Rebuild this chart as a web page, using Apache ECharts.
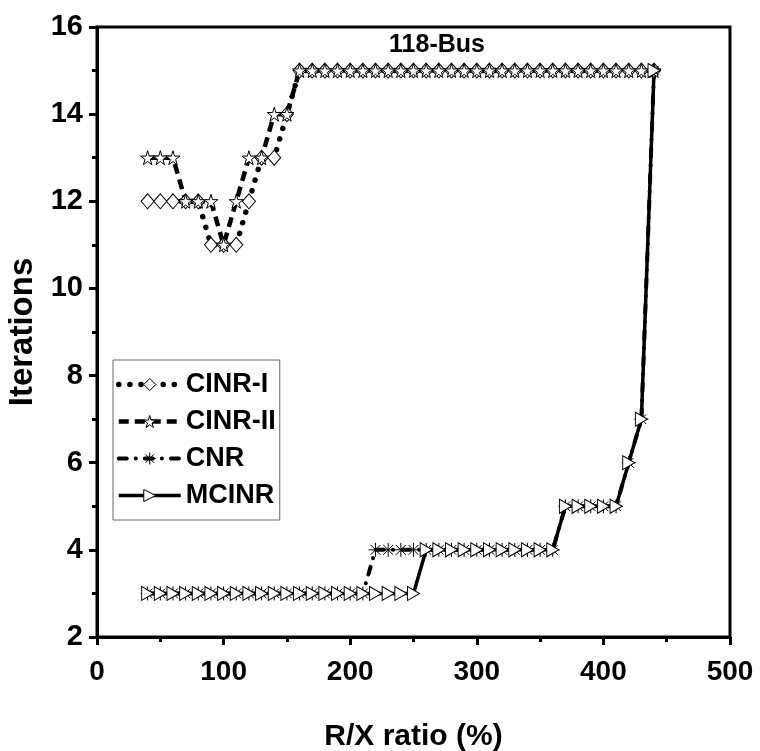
<!DOCTYPE html>
<html>
<head>
<meta charset="utf-8">
<script src="https://cdn.jsdelivr.net/npm/echarts@6/dist/echarts.min.js"></script>
<style>html,body{margin:0;padding:0;background:#fff;}#c{width:760px;height:751px;}</style>
</head>
<body>
<div id="c"></div>
<script>
// R/X ratio (%) values
const rxRatio = [40,50,60,70,80,90,100,110,120,130,140,150,160,170,180,190,200,210,220,230,240,250,260,270,280,290,300,310,320,330,340,350,360,370,380,390,400,410,420,430,440];
const cinr1 = [12,12,12,12,12,11,11,11,12,13,13,14,15,15,15,15,15,15,15,15,15,15,15,15,15,15,15,15,15,15,15,15,15,15,15,15,15,15,15,15,15];
const cinr2 = [13,13,13,12,12,12,11,12,13,13,14,14,15,15,15,15,15,15,15,15,15,15,15,15,15,15,15,15,15,15,15,15,15,15,15,15,15,15,15,15,15];
const cnr   = [3,3,3,3,3,3,3,3,3,3,3,3,3,3,3,3,3,3,4,4,4,4,4,4,4,4,4,4,4,4,4,4,4,5,5,5,5,5,6,7,15];
const mcinr = [3,3,3,3,3,3,3,3,3,3,3,3,3,3,3,3,3,3,3,3,3,3,4,4,4,4,4,4,4,4,4,4,4,5,5,5,5,5,6,7,15];
const seriesNames = ['CINR-I','CINR-II','CNR','MCINR'];
const xTicks = [0,100,200,300,400,500];
const yTicks = [2,4,6,8,10,12,14,16];
const titleText = '118-Bus';

const FONT = '"Liberation Sans", Arial, sans-serif';
const pairs = ys => rxRatio.map((x,i)=>[x, ys[i]]);
const STAR = 'path://M50,0 L61,35 L98,35 L68,57 L79,91 L50,70 L21,91 L32,57 L2,35 L39,35 Z';
const ASTER = 'path://M0,5L10,5M5,0L5,10M1.5,1.5L8.5,8.5M1.5,8.5L8.5,1.5';
const TRI = 'path://M0,0 L10,5 L0,10 Z';

const chart = echarts.init(document.getElementById('c'), null, {renderer:'canvas'});
const mk = (name, ys, symbol, size, dash, width, cap) => ({
  name, type:'line', data: pairs(ys), symbol, symbolSize: size,
  showAllSymbol: true,
  lineStyle:{color:'#000', width, type: dash, cap: cap},
  itemStyle:{color:'#fff', borderColor:'#000', borderWidth:1},
  emphasis:{disabled:true}, animation:false
});
chart.setOption({
  animation:false,
  title:{text:titleText, left:432, top:28, textAlign:'center',
    textStyle:{fontFamily:FONT, fontWeight:'bold', fontSize:25, color:'#000'}},
  grid:{left:97, right:30, top:27, bottom:114, show:true, borderColor:'#000', borderWidth:3,
    backgroundColor:'transparent', containLabel:false, outerBoundsMode:'none'},
  legend:{orient:'vertical', left:113, top:360, data:seriesNames,
    itemWidth:62, itemHeight:15, itemGap:6,
    itemStyle:{color:'#fff', borderColor:'#000', borderWidth:1},
    lineStyle:{width:'inherit', type:'inherit', color:'#000'},
    borderColor:'#666', borderWidth:1, padding:[9,4,9,3],
    textStyle:{fontFamily:FONT, fontWeight:'bold', fontSize:27, color:'#000', lineHeight:31}},
  xAxis:{type:'value', min:0, max:500, interval:100,
    name:'R/X ratio (%)', nameLocation:'middle', nameGap:85,
    nameTextStyle:{fontFamily:FONT, fontWeight:'bold', fontSize:30, color:'#000'},
    axisLine:{show:true, lineStyle:{color:'#000', width:3}},
    axisTick:{show:true, length:8, lineStyle:{color:'#000', width:3}},
    minorTick:{show:true, splitNumber:2, length:5, lineStyle:{color:'#000', width:3}},
    splitLine:{show:false},
    axisLabel:{fontFamily:FONT, fontWeight:'bold', fontSize:28, color:'#000', margin:21,
      formatter: v => xTicks.includes(v) ? String(v) : ''}},
  yAxis:{type:'value', min:2, max:16, interval:2,
    name:'Iterations', nameLocation:'middle', nameGap:46,
    nameTextStyle:{fontFamily:FONT, fontWeight:'bold', fontSize:33, color:'#000'},
    axisLine:{show:true, lineStyle:{color:'#000', width:3}},
    axisTick:{show:true, length:8, lineStyle:{color:'#000', width:3}},
    minorTick:{show:true, splitNumber:2, length:5, lineStyle:{color:'#000', width:3}},
    splitLine:{show:false},
    axisLabel:{fontFamily:FONT, fontWeight:'bold', fontSize:29, color:'#000', margin:14,
      formatter: v => yTicks.includes(v) ? String(v) : ''}},
  series:[
    mk(seriesNames[0], cinr1, 'diamond', [13,15], [0.1,11], 5.5, 'round'),
    mk(seriesNames[1], cinr2, STAR, 14, [10,6], 4.5, 'butt'),
    mk(seriesNames[2], cnr, ASTER, 14, [8,9,0.1,9], 4, 'round'),
    mk(seriesNames[3], mcinr, TRI, [12,14], 'solid', 3.5, 'butt')
  ]
});
</script>
</body>
</html>
